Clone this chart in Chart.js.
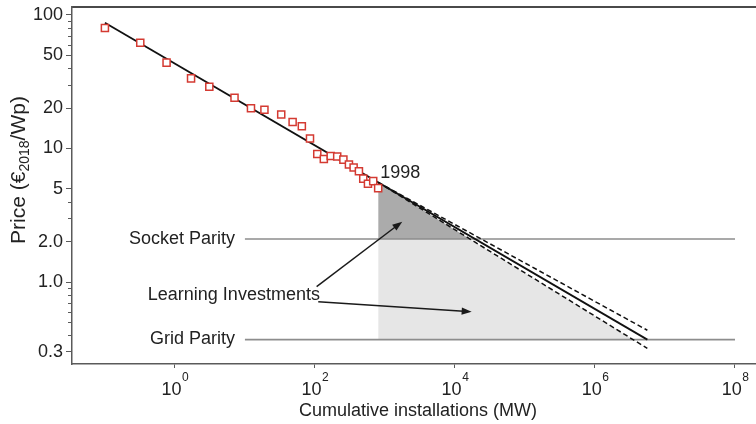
<!DOCTYPE html>
<html>
<head>
<meta charset="utf-8">
<script src="https://cdn.jsdelivr.net/npm/chart.js@4.4.1/dist/chart.umd.min.js"></script>
<style>
  html, body { margin: 0; padding: 0; background: #fff; }
  canvas { display: block; }
</style>
</head>
<body>
<canvas id="chart" width="756" height="424" style="width:756px;height:424px"></canvas>
<script>
// Module price vs. cumulative installed capacity (log-log experience curve)
const installedMW = [0.1, 0.32, 0.76, 1.7, 3.1, 7.1, 12.2, 19, 33, 48, 65, 85,
                     108, 134, 168, 208, 255, 306, 357, 425, 490, 572, 680, 800];
const priceEurWp  = [80, 62, 44, 33.5, 29, 24, 20, 19.5, 18, 15.8, 14.7, 11.9,
                     9.1, 8.35, 8.8, 8.7, 8.25, 7.6, 7.2, 6.75, 5.95, 5.45, 5.7, 5.05];

// Fitted experience curve and its projection
const fitMW    = [0.1, 5.6e6];
const fitPrice = [87.5, 0.37];

// Uncertainty band of the projection, starting at 1998
const boundMW         = [800, 5.6e6];
const upperBoundPrice = [5.575, 0.435];
const lowerBoundPrice = [5.575, 0.318];

// Parity price levels
const socketParity = 2.1;
const gridParity   = 0.37;
const parityMW     = [10, 1e8];

// Axis ticks
const xTickValues    = [1, 1e2, 1e4, 1e6, 1e8];
const xTickExponents = ['0', '2', '4', '6', '8'];
const yTickValues    = [0.3, 1, 2, 5, 10, 20, 50, 100];
const yTickLabels    = ['0.3', '1.0', '2.0', '5', '10', '20', '50', '100'];
const yMinorTicks    = [0.4, 0.5, 0.6, 0.7, 0.8, 0.9, 3, 4, 30, 40, 60, 70, 80, 90];

const FONT = "'Liberation Sans', Arial, Helvetica, sans-serif";
const TEXT = '#222';
const AXIS = '#5a5a5a';

// Capacity at which the lower bound reaches a given price (straight line in log-log)
function lowerBoundMWAt(price) {
  const lx0 = Math.log10(boundMW[0]), lx1 = Math.log10(boundMW[1]);
  const ly0 = Math.log10(lowerBoundPrice[0]), ly1 = Math.log10(lowerBoundPrice[1]);
  const t = (Math.log10(price) - ly0) / (ly1 - ly0);
  return Math.pow(10, lx0 + t * (lx1 - lx0));
}
const mwAtSocket = lowerBoundMWAt(socketParity);
const mwAtGrid   = lowerBoundMWAt(gridParity);

const pts = (xs, ys) => xs.map((x, i) => ({ x, y: ys[i] }));

const datasets = [
  { // learning investment above socket parity
    data: [{ x: boundMW[0], y: lowerBoundPrice[0] }, { x: mwAtSocket, y: socketParity }],
    fill: { value: socketParity }, backgroundColor: '#ababab',
    borderWidth: 0, pointRadius: 0, order: 6
  },
  { // learning investment between socket and grid parity
    data: [{ x: boundMW[0], y: socketParity }, { x: mwAtSocket, y: socketParity }, { x: mwAtGrid, y: gridParity }],
    fill: { value: gridParity }, backgroundColor: '#e6e6e6',
    borderWidth: 0, pointRadius: 0, order: 6
  },
  { data: pts(parityMW, [socketParity, socketParity]), borderColor: '#8d8d8d', borderWidth: 1.6, pointRadius: 0, order: 5 },
  { data: pts(parityMW, [gridParity, gridParity]), borderColor: '#8d8d8d', borderWidth: 1.6, pointRadius: 0, order: 5 },
  { data: pts(boundMW, upperBoundPrice), borderColor: '#111', borderWidth: 1.5, borderDash: [5, 3], pointRadius: 0, order: 2 },
  { data: pts(boundMW, lowerBoundPrice), borderColor: '#111', borderWidth: 1.5, borderDash: [5, 3], pointRadius: 0, order: 2 },
  { data: pts(fitMW, fitPrice), borderColor: '#111', borderWidth: 1.8, pointRadius: 0, order: 1 },
  { // historical prices
    data: pts(installedMW, priceEurWp), showLine: false,
    pointStyle: 'rect', pointRadius: 5, pointBorderWidth: 1.5,
    pointBorderColor: '#d43a32', pointBackgroundColor: '#ffffff', order: 0
  }
];

const annotations = {
  id: 'annotations',
  afterDraw(chart) {
    const { ctx, chartArea: area, scales: { x, y } } = chart;
    const X = v => x.getPixelForValue(v);
    const Y = v => y.getPixelForValue(v);
    ctx.save();

    // minor ticks on the price axis
    ctx.strokeStyle = AXIS;
    ctx.lineWidth = 1;
    yMinorTicks.forEach(v => {
      const py = Math.round(Y(v)) + 0.5;
      ctx.beginPath();
      ctx.moveTo(area.left - 4, py);
      ctx.lineTo(area.left, py);
      ctx.stroke();
    });

    // capacity tick labels as powers of ten
    ctx.fillStyle = TEXT;
    ctx.textBaseline = 'alphabetic';
    ctx.textAlign = 'left';
    xTickValues.forEach((v, i) => {
      const px = X(v);
      ctx.font = '18px ' + FONT;
      const wb = ctx.measureText('10').width;
      ctx.font = '12px ' + FONT;
      const we = ctx.measureText(xTickExponents[i]).width;
      const start = px - (wb + we) / 2;
      ctx.font = '18px ' + FONT;
      ctx.fillText('10', start, area.bottom + 31);
      ctx.font = '12px ' + FONT;
      ctx.fillText(xTickExponents[i], start + wb + 0.5, area.bottom + 17);
    });

    // axis titles
    ctx.font = '18px ' + FONT;
    ctx.textAlign = 'center';
    ctx.fillText('Cumulative installations (MW)', 418, area.bottom + 52);

    ctx.save();
    ctx.translate(25, 170);
    ctx.rotate(-Math.PI / 2);
    ctx.textAlign = 'left';
    const parts = [['Price (€', '21px ', 0], ['2018', '14px ', 4], ['/Wp)', '21px ', 0]];
    let total = 0;
    parts.forEach(p => { ctx.font = p[1] + FONT; total += ctx.measureText(p[0]).width; });
    let cx = -total / 2;
    parts.forEach(p => {
      ctx.font = p[1] + FONT;
      ctx.fillText(p[0], cx, p[2]);
      cx += ctx.measureText(p[0]).width;
    });
    ctx.restore();

    // parity and investment labels
    ctx.font = '18px ' + FONT;
    ctx.textAlign = 'right';
    ctx.fillText('Socket Parity', X(parityMW[0]) - 10, Y(socketParity) + 5.5);
    ctx.fillText('Grid Parity', X(parityMW[0]) - 10, Y(gridParity) + 4.5);
    ctx.textAlign = 'left';
    ctx.fillText('1998', X(boundMW[0]) + 2, Y(upperBoundPrice[0]) - 4);
    ctx.fillText('Learning Investments', X(0.41), Y(0.733));

    // arrows pointing at both shaded areas
    const arrow = (x0, y0, x1, y1) => {
      const ax = X(x0), ay = Y(y0), bx = X(x1), by = Y(y1);
      const ang = Math.atan2(by - ay, bx - ax);
      const len = 10, half = 3.6;
      ctx.strokeStyle = '#1a1a1a';
      ctx.fillStyle = '#1a1a1a';
      ctx.lineWidth = 1.5;
      ctx.beginPath();
      ctx.moveTo(ax, ay);
      ctx.lineTo(bx - Math.cos(ang) * len * 0.8, by - Math.sin(ang) * len * 0.8);
      ctx.stroke();
      ctx.beginPath();
      ctx.moveTo(bx, by);
      ctx.lineTo(bx - Math.cos(ang) * len - Math.sin(ang) * half, by - Math.sin(ang) * len + Math.cos(ang) * half);
      ctx.lineTo(bx - Math.cos(ang) * len + Math.sin(ang) * half, by - Math.sin(ang) * len - Math.cos(ang) * half);
      ctx.closePath();
      ctx.fill();
    };
    arrow(105.7, 0.922, 1767, 2.83);
    arrow(111.5, 0.712, 17330, 0.599);

    ctx.restore();
  }
};

Chart.defaults.font.family = FONT;
Chart.defaults.color = TEXT;

new Chart(document.getElementById('chart'), {
  type: 'line',
  data: { datasets },
  options: {
    responsive: false,
    devicePixelRatio: 1,
    animation: false,
    events: [],
    layout: { padding: 0, autoPadding: false },
    plugins: { legend: { display: false }, tooltip: { enabled: false } },
    scales: {
      x: {
        type: 'logarithmic',
        position: 'bottom',
        min: Math.pow(10, -1.47),
        max: Math.pow(10, 8.3),
        afterBuildTicks: s => { s.ticks = xTickValues.map(v => ({ value: v })); },
        afterFit: s => { s.height = 60; s.paddingLeft = 0; s.paddingRight = 0; },
        ticks: { display: false },
        grid: { display: true, drawOnChartArea: false, drawTicks: true, tickLength: 4, color: AXIS, lineWidth: 1 },
        border: { display: true, color: AXIS, width: 1.5 }
      },
      top: {
        type: 'linear',
        position: 'top',
        min: 0, max: 1,
        afterBuildTicks: s => { s.ticks = []; },
        afterFit: s => { s.height = 7; s.paddingLeft = 0; s.paddingRight = 0; },
        ticks: { display: false },
        grid: { display: false, drawTicks: false },
        border: { display: true, color: '#4a4a4a', width: 2 }
      },
      y: {
        type: 'logarithmic',
        position: 'left',
        min: Math.pow(10, -0.6142),
        max: Math.pow(10, 2.0599),
        afterBuildTicks: s => { s.ticks = yTickValues.map(v => ({ value: v })); },
        afterFit: s => { s.width = 72; s.paddingTop = 0; s.paddingBottom = 0; s.paddingLeft = 0; s.paddingRight = 0; },
        ticks: {
          autoSkip: false,
          padding: 3,
          font: { size: 18 },
          color: TEXT,
          callback: (v, i) => yTickLabels[i]
        },
        grid: { display: true, drawOnChartArea: false, drawTicks: true, tickLength: 6, color: AXIS, lineWidth: 1 },
        border: { display: true, color: AXIS, width: 1.5 }
      }
    }
  },
  plugins: [annotations]
});
</script>
</body>
</html>
